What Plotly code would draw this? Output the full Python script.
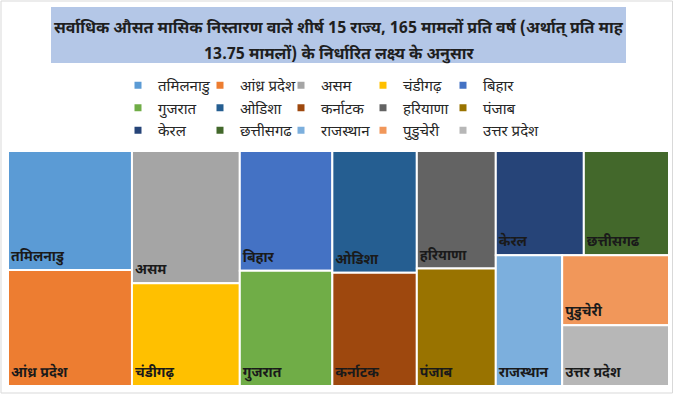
import plotly.graph_objects as go

# ---- data ----
states = ["तमिलनाडु", "आंध्र प्रदेश", "असम", "चंडीगढ़", "बिहार",
          "गुजरात", "ओडिशा", "कर्नाटक", "हरियाणा", "पंजाब",
          "केरल", "छत्तीसगढ", "राजस्थान", "पुडुचेरी", "उत्तर प्रदेश"]
values = [14.8, 14.4, 14.3, 11.1, 11.1,
          10.7, 10.3, 9.6, 9.3, 9.3,
          9.2, 8.9, 8.7, 7.5, 6.5]
colors = ["#5B9BD5", "#ED7D31", "#A5A5A5", "#FFC000", "#4472C4",
          "#70AD47", "#255E91", "#9E480E", "#636363", "#997300",
          "#264478", "#43682B", "#7CAFDD", "#F1975A", "#B7B7B7"]
title_lines = ["सर्वाधिक औसत मासिक निस्तारण वाले शीर्ष 15 राज्य, 165 मामलों प्रति वर्ष (अर्थात् प्रति माह",
               "13.75 मामलों) के निर्धारित लक्ष्य के अनुसार"]

FONT = "Noto Sans Devanagari, Nirmala UI, Mangal, Lohit Devanagari, FreeSans, Noto Sans, sans-serif"
W, H = 677, 395
ML, MR, MT, MB = 8, 8, 151, 9
PW, PH = W - ML - MR, H - MT - MB

def px_x(x):
    return (x - ML) / PW

def px_y(y):
    return (H - MB - y) / PH

fig = go.Figure()
fig.add_trace(go.Treemap(
    labels=states,
    parents=[""] * len(states),
    values=values,
    marker=dict(colors=colors, line=dict(color="white", width=2),
                pad=dict(t=0, l=0, r=0, b=0)),
    textposition="bottom left",
    texttemplate="%{label}",
    textfont=dict(family=FONT, size=14, color="#1a1a1a", weight="bold"),
    tiling=dict(packing="squarify", squarifyratio=1, pad=0),
    pathbar=dict(visible=False),
    sort=True,
    domain=dict(x=[0, 1], y=[0, 1]),
    hoverinfo="label+value",
))

# legend: 5 columns x 3 rows (row-major order like the reference)
NCOL = 5
col_text_x = [155, 237, 318, 400, 480]
legend_layout = {}
for i, (s, c) in enumerate(zip(states, colors)):
    col = i % NCOL
    lname = "legend" if col == 0 else f"legend{col + 1}"
    fig.add_trace(go.Scatter(
        x=[None], y=[None], mode="markers", name=s,
        marker=dict(symbol="square", size=7, color=c),
        showlegend=True, hoverinfo="skip", legend=lname,
    ))
    legend_layout[lname] = dict(
        orientation="v", x=px_x(col_text_x[col] - 37), y=px_y(69),
        xanchor="left", yanchor="top", itemwidth=30,
        font=dict(family=FONT, size=15, color="#262626"),
        bgcolor="rgba(0,0,0,0)", tracegroupgap=0,
    )

fig.add_shape(type="rect", xref="paper", yref="paper",
              x0=px_x(51), x1=px_x(626), y0=px_y(63), y1=px_y(7),
              fillcolor="#B4C7E7", line=dict(width=0), layer="below")
fig.add_shape(type="rect", xref="paper", yref="paper",
              x0=px_x(1), x1=px_x(672.5), y0=px_y(393), y1=px_y(1),
              fillcolor="rgba(0,0,0,0)", line=dict(color="#D9D9D9", width=1))

for line, ypx in zip(title_lines, [29, 55]):
    fig.add_annotation(text="<b>" + line + "</b>", xref="paper", yref="paper",
                       x=px_x(338.5), y=px_y(ypx), showarrow=False,
                       xanchor="center", yanchor="middle",
                       font=dict(family=FONT, size=16, color="#1f1f1f"))

fig.update_layout(
    width=W, height=H,
    margin=dict(l=ML, r=MR, t=MT, b=MB, autoexpand=False),
    paper_bgcolor="white", plot_bgcolor="white",
    xaxis=dict(visible=False), yaxis=dict(visible=False),
    hovermode=False,
    **legend_layout,
)

fig.write_html("out.html")
